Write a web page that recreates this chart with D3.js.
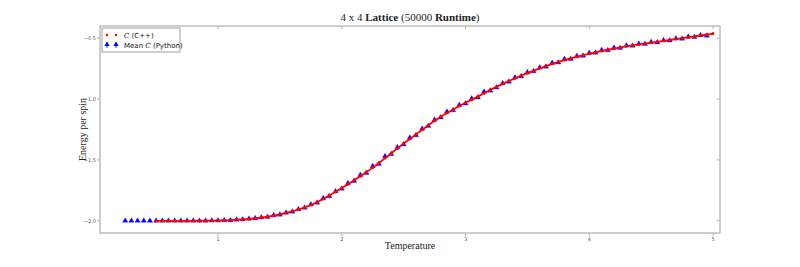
<html>
<head>
<meta charset="utf-8">
<style>
body { margin: 0; background: white; }
svg { display: block; }
.tick-label { font-family: "DejaVu Sans", sans-serif; font-size: 5px; fill: #555; }
.serif { font-family: "Liberation Serif", serif; fill: #222; }
.legend-text { font-family: "DejaVu Sans", sans-serif; font-size: 7px; fill: #111; }
</style>
</head>
<body>
<script src="https://cdnjs.cloudflare.com/ajax/libs/d3/7.8.5/d3.min.js"></script>
<script>
// C++ results
var tempCpp = [0.50,0.55,0.60,0.65,0.70,0.75,0.80,0.85,0.90,0.95,
  1.00,1.05,1.10,1.15,1.20,1.25,1.30,1.35,1.40,1.45,
  1.50,1.55,1.60,1.65,1.70,1.75,1.80,1.85,1.90,1.95,
  2.00,2.05,2.10,2.15,2.20,2.25,2.30,2.35,2.40,2.45,
  2.50,2.55,2.60,2.65,2.70,2.75,2.80,2.85,2.90,2.95,
  3.00,3.05,3.10,3.15,3.20,3.25,3.30,3.35,3.40,3.45,
  3.50,3.55,3.60,3.65,3.70,3.75,3.80,3.85,3.90,3.95,
  4.00,4.05,4.10,4.15,4.20,4.25,4.30,4.35,4.40,4.45,
  4.50,4.55,4.60,4.65,4.70,4.75,4.80,4.85,4.90,4.95,5.00]
var energyCpp = [-2.000,-2.000,-2.000,-2.000,-2.000,-2.000,-2.000,-1.999,-1.999,-1.998,
  -1.997,-1.996,-1.994,-1.991,-1.988,-1.984,-1.979,-1.973,-1.966,-1.957,
  -1.947,-1.935,-1.922,-1.907,-1.890,-1.870,-1.847,-1.820,-1.792,-1.762,
  -1.731,-1.699,-1.666,-1.633,-1.600,-1.563,-1.525,-1.485,-1.445,-1.405,
  -1.365,-1.327,-1.290,-1.252,-1.215,-1.179,-1.145,-1.114,-1.085,-1.057,
  -1.030,-1.005,-0.980,-0.952,-0.925,-0.900,-0.875,-0.852,-0.830,-0.808,
  -0.787,-0.767,-0.748,-0.729,-0.711,-0.695,-0.680,-0.666,-0.653,-0.640,
  -0.628,-0.616,-0.605,-0.595,-0.585,-0.576,-0.567,-0.559,-0.551,-0.544,
  -0.537,-0.530,-0.522,-0.515,-0.507,-0.500,-0.493,-0.486,-0.478,-0.470,-0.462]

// Python results (mean)
var tempPy = [0.25,0.30,0.35,0.40,0.45,
  0.50,0.55,0.60,0.65,0.70,0.75,0.80,0.85,0.90,0.95,
  1.00,1.05,1.10,1.15,1.20,1.25,1.30,1.35,1.40,1.45,
  1.50,1.55,1.60,1.65,1.70,1.75,1.80,1.85,1.90,1.95,
  2.00,2.05,2.10,2.15,2.20,2.25,2.30,2.35,2.40,2.45,
  2.50,2.55,2.60,2.65,2.70,2.75,2.80,2.85,2.90,2.95,
  3.00,3.05,3.10,3.15,3.20,3.25,3.30,3.35,3.40,3.45,
  3.50,3.55,3.60,3.65,3.70,3.75,3.80,3.85,3.90,3.95,
  4.00,4.05,4.10,4.15,4.20,4.25,4.30,4.35,4.40,4.45,
  4.50,4.55,4.60,4.65,4.70,4.75,4.80,4.85,4.90,4.95]
var energyPy = [-2.000,-2.000,-2.000,-2.000,-2.000,
  -2.000,-2.000,-2.000,-2.000,-2.000,-2.000,-1.999,-2.000,-1.999,-1.998,
  -1.998,-1.995,-1.995,-1.990,-1.989,-1.983,-1.980,-1.972,-1.968,-1.955,
  -1.949,-1.933,-1.925,-1.905,-1.893,-1.866,-1.851,-1.815,-1.797,-1.758,
  -1.737,-1.692,-1.672,-1.624,-1.607,-1.551,-1.533,-1.470,-1.452,-1.396,
  -1.372,-1.318,-1.298,-1.244,-1.222,-1.170,-1.151,-1.104,-1.092,-1.049,
  -1.037,-0.996,-0.987,-0.940,-0.931,-0.905,-0.870,-0.858,-0.823,-0.814,
  -0.781,-0.772,-0.741,-0.735,-0.703,-0.700,-0.672,-0.671,-0.646,-0.645,
  -0.622,-0.620,-0.598,-0.600,-0.579,-0.581,-0.561,-0.563,-0.546,-0.548,
  -0.531,-0.535,-0.518,-0.519,-0.502,-0.505,-0.488,-0.491,-0.476,-0.480]

var xTicks = [1, 2, 3, 4, 5]
var yTicks = [-0.5, -1.0, -1.5, -2.0]

var width = 800,
    height = 267;

// plot frame (window.top is reserved, so use other names)
var plotLeft = 100, plotRight = 720, plotTop = 26, plotBottom = 233;

var svg = d3.select("body")
  .append("svg")
  .attr("width", width)
  .attr("height", height)

var x = d3.scaleLinear().domain([0.0465, 5.0565]).range([plotLeft, plotRight])
var y = d3.scaleLinear().domain([-2.1, -0.4]).range([plotBottom, plotTop])

var frameColor = "#bdbdbd"

// ticks on all four sides
xTicks.forEach(function(t) {
  svg.append("line").attr("x1", x(t)).attr("x2", x(t)).attr("y1", plotBottom).attr("y2", plotBottom + 3)
    .attr("stroke", "#999").attr("stroke-width", 0.8)
  svg.append("line").attr("x1", x(t)).attr("x2", x(t)).attr("y1", plotTop).attr("y2", plotTop + 3)
    .attr("stroke", "#999").attr("stroke-width", 0.8)
  svg.append("text").attr("class", "tick-label")
    .attr("x", x(t)).attr("y", plotBottom + 8)
    .attr("text-anchor", "middle")
    .text(t)
})

yTicks.forEach(function(t) {
  svg.append("line").attr("x1", plotLeft).attr("x2", plotLeft - 3).attr("y1", y(t)).attr("y2", y(t))
    .attr("stroke", "#999").attr("stroke-width", 0.8)
  svg.append("line").attr("x1", plotRight).attr("x2", plotRight - 3).attr("y1", y(t)).attr("y2", y(t))
    .attr("stroke", "#999").attr("stroke-width", 0.8)
  svg.append("text").attr("class", "tick-label")
    .attr("x", plotLeft - 4).attr("y", y(t) + 1.7)
    .attr("text-anchor", "end")
    .text(d3.format(".1f")(t))
})

svg.append("rect")
  .attr("x", plotLeft).attr("y", plotTop)
  .attr("width", plotRight - plotLeft).attr("height", plotBottom - plotTop)
  .attr("fill", "none")
  .attr("stroke", frameColor)
  .attr("stroke-width", 1.5)

var cppData = tempCpp.map(function(t, i) { return { t: t, e: energyCpp[i] } })
var pyData = tempPy.map(function(t, i) { return { t: t, e: energyPy[i] } })

var line = d3.line()
  .x(function(d) { return x(d.t) })
  .y(function(d) { return y(d.e) })

var tri = d3.symbol().type(d3.symbolTriangle).size(12)

// python triangles
svg.append("g").selectAll("path")
  .data(pyData)
  .enter().append("path")
  .attr("d", tri)
  .attr("transform", function(d) { return "translate(" + x(d.t) + "," + y(d.e) + ")" })
  .attr("fill", "#0000ff")
  .attr("stroke", "#0000ff")
  .attr("stroke-width", 0.3)

// c++ dots
svg.append("path")
  .datum(cppData)
  .attr("d", line)
  .attr("fill", "none")
  .attr("stroke", "#ff0000")
  .attr("stroke-width", 1.8)

svg.append("g").selectAll("circle")
  .data(cppData)
  .enter().append("circle")
  .attr("cx", function(d) { return x(d.t) })
  .attr("cy", function(d) { return y(d.e) })
  .attr("r", 1.5)
  .attr("fill", "#ff0000")

// legend
var legend = svg.append("g").attr("transform", "translate(102,28)")
legend.append("rect")
  .attr("width", 78).attr("height", 24)
  .attr("fill", "white")
  .attr("stroke", "#888")
  .attr("stroke-width", 0.8)

;[5, 14].forEach(function(px) {
  legend.append("circle").attr("cx", px).attr("cy", 7).attr("r", 1.2).attr("fill", "#ff0000")
  legend.append("line").attr("x1", px).attr("x2", px).attr("y1", 14).attr("y2", 20)
    .attr("stroke", "#0000ff").attr("stroke-width", 0.8)
  legend.append("path").attr("d", tri).attr("transform", "translate(" + px + ",16.5)")
    .attr("fill", "#0000ff")
})

var t1 = legend.append("text").attr("class", "legend-text").attr("x", 22).attr("y", 9.5)
t1.append("tspan").attr("font-family", "DejaVu Serif").attr("font-style", "italic").text("C")
t1.append("tspan").text(" (C++)")

var t2 = legend.append("text").attr("class", "legend-text").attr("x", 22).attr("y", 19.5)
t2.append("tspan").text("Mean ")
t2.append("tspan").attr("font-family", "DejaVu Serif").attr("font-style", "italic").text("C")
t2.append("tspan").text(" (Python)")

// title
var title = svg.append("text").attr("class", "serif")
  .attr("x", (plotLeft + plotRight) / 2).attr("y", 21)
  .attr("text-anchor", "middle")
  .attr("font-size", 11)
title.append("tspan").text("4 x 4 ")
title.append("tspan").attr("font-weight", "bold").text("Lattice")
title.append("tspan").text(" (50000 ")
title.append("tspan").attr("font-weight", "bold").text("Runtime")
title.append("tspan").text(")")

svg.append("text").attr("class", "serif")
  .attr("x", (plotLeft + plotRight) / 2).attr("y", 249)
  .attr("text-anchor", "middle")
  .attr("font-size", 10)
  .text("Temperature")

svg.append("text").attr("class", "serif")
  .attr("transform", "translate(86," + ((plotTop + plotBottom) / 2) + ") rotate(-90)")
  .attr("text-anchor", "middle")
  .attr("font-size", 10)
  .text("Energy per spin")
</script>
</body>
</html>
